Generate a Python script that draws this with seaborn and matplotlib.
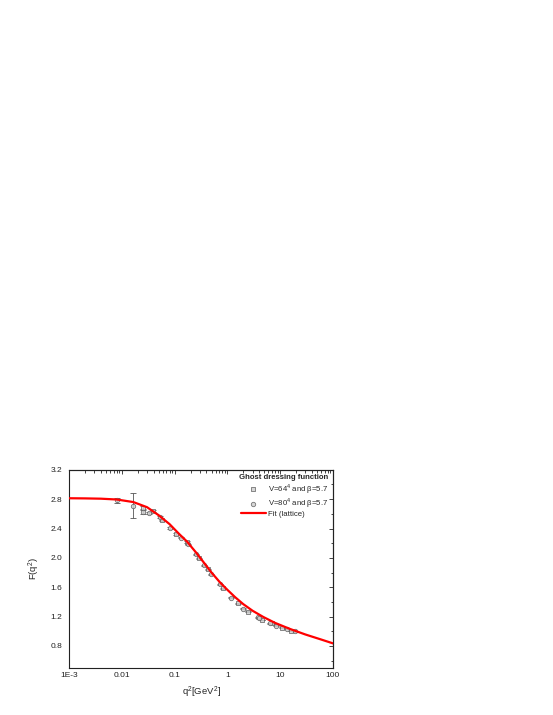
import numpy as np
import pandas as pd
import matplotlib
matplotlib.use("Agg")
import matplotlib.pyplot as plt
import seaborn as sns
from matplotlib.ticker import LogLocator, FixedLocator, MultipleLocator, NullFormatter

# fit curve
fit_q = [0.001, 0.002, 0.004, 0.008, 0.0165, 0.03, 0.05, 0.08, 0.12, 0.17, 0.25, 0.35,
         0.5, 0.72, 1.0, 1.4, 2.0, 3.0, 4.8, 8.0, 15.0, 30.0, 60.0, 100.0]
fit_F = [2.812, 2.810, 2.806, 2.795, 2.76, 2.69, 2.58, 2.46, 2.33, 2.225, 2.08, 1.945,
         1.80, 1.668, 1.565, 1.465, 1.37, 1.28, 1.195, 1.115, 1.035, 0.957, 0.888, 0.836]

# V=64^4 lattice points
v64_q = [0.0249, 0.0385, 0.057, 0.106, 0.17, 0.294, 0.435, 0.815, 1.61, 2.49, 4.47, 6.9, 10.7, 16.4]
v64_F = [2.681, 2.635, 2.509, 2.328, 2.214, 1.993, 1.844, 1.586, 1.383, 1.265, 1.152, 1.108, 1.05, 1.01]
v64_err = [0.03, 0.015, 0.012, 0.01, 0.01, 0.008, 0.008, 0.006, 0.005, 0.005, 0.004, 0.004, 0.004, 0.004]

# V=80^4 lattice points
v80_q = [0.008, 0.0165, 0.0249, 0.0332, 0.0528, 0.0819, 0.131, 0.182, 0.254, 0.366, 0.489,
         0.724, 1.17, 2.0, 3.85, 4.0, 6.3, 8.5, 13.2, 19.0]
v80_F = [2.784, 2.712, 2.626, 2.613, 2.559, 2.41, 2.274, 2.183, 2.047, 1.898, 1.776,
         1.64, 1.46, 1.31, 1.189, 1.175, 1.108, 1.076, 1.03, 1.0]
v80_err = [0.038, 0.17, 0.035, 0.015, 0.012, 0.01, 0.01, 0.008, 0.008, 0.008, 0.006,
           0.006, 0.005, 0.005, 0.004, 0.004, 0.004, 0.004, 0.004, 0.004]

x_ticks = [1e-3, 0.01, 0.1, 1, 10, 100]
x_labels = ["1E-3", "0.01", "0.1", "1", "10", "100"]
y_ticks = [0.8, 1.2, 1.6, 2.0, 2.4, 2.8, 3.2]

sns.set_style("white")
plt.rcParams["font.family"] = ["Liberation Sans", "DejaVu Sans"]
plt.rcParams["mathtext.fontset"] = "custom"
plt.rcParams["mathtext.rm"] = "Liberation Sans"

fig = plt.figure(figsize=(5.53, 7.15), dpi=100)
ax = fig.add_axes([0.125, 0.0657, 0.477, 0.2773])

df64 = pd.DataFrame({"q": v64_q, "F": v64_F})
df80 = pd.DataFrame({"q": v80_q, "F": v80_F})
dfit = pd.DataFrame({"q": fit_q, "F": fit_F})

ax.errorbar(v80_q, v80_F, yerr=v80_err, fmt="none", ecolor="#555555", elinewidth=0.6, capsize=2, capthick=0.6, zorder=2)
ax.errorbar(v64_q, v64_F, yerr=v64_err, fmt="none", ecolor="#555555", elinewidth=0.6, capsize=2, capthick=0.6, zorder=2)

sns.scatterplot(data=df64, x="q", y="F", ax=ax, marker="s", s=8, facecolor="#d0d0d0",
                edgecolor="#606060", linewidth=0.6, alpha=0.85, zorder=3, label="V=64$^4$ and β=5.7")
sns.scatterplot(data=df80, x="q", y="F", ax=ax, marker="o", s=10, facecolor="#d0d0d0",
                edgecolor="#606060", linewidth=0.6, alpha=0.85, zorder=3, label="V=80$^4$ and β=5.7")
sns.lineplot(data=dfit, x="q", y="F", ax=ax, color="#ff0000", linewidth=1.6, zorder=4,
             label="Fit (lattice)", sort=True)

ax.set_xscale("log")
ax.set_xlim(1e-3, 100)
ax.set_ylim(0.5, 3.2)

ax.xaxis.set_major_locator(FixedLocator(x_ticks))
ax.set_xticklabels(x_labels)
ax.xaxis.set_minor_locator(LogLocator(base=10, subs=np.arange(2, 10) * 1.0, numticks=20))
ax.xaxis.set_minor_formatter(NullFormatter())
ax.yaxis.set_major_locator(FixedLocator(y_ticks))
ax.set_yticklabels([f"{v:.1f}" for v in y_ticks])
ax.yaxis.set_minor_locator(MultipleLocator(0.2))

ax.tick_params(axis="x", which="both", direction="in", labelsize=6, pad=3, colors="#222222")
ax.tick_params(axis="x", which="major", length=3, width=0.6)
ax.tick_params(axis="x", which="minor", length=1.8, width=0.5)
ax.tick_params(axis="y", which="both", direction="out", labelsize=6, pad=2, colors="#222222")
ax.tick_params(axis="y", which="major", length=3, width=0.6)
ax.tick_params(axis="y", which="minor", length=1.8, width=0.5)

# top / right ticks pointing inward
top = ax.secondary_xaxis("top")
top.xaxis.set_major_locator(FixedLocator(x_ticks))
top.xaxis.set_minor_locator(LogLocator(base=10, subs=np.arange(2, 10) * 1.0, numticks=20))
top.tick_params(which="both", direction="in", labeltop=False, width=0.6)
top.tick_params(which="major", length=3)
top.tick_params(which="minor", length=1.8)
right = ax.secondary_yaxis("right")
right.yaxis.set_major_locator(FixedLocator(y_ticks))
right.yaxis.set_minor_locator(MultipleLocator(0.2))
right.tick_params(which="both", direction="in", labelright=False, width=0.6)
right.tick_params(which="major", length=3)
right.tick_params(which="minor", length=1.8)
for sec in (top, right):
    for s in sec.spines.values():
        s.set_linewidth(0.8)

for s in ax.spines.values():
    s.set_linewidth(0.8)
    s.set_color("#222222")

ax.set_xlabel("q$^2$[GeV$^2$]", fontsize=6.8, labelpad=4)
ax.set_ylabel("F(q$^2$)", fontsize=6.8, labelpad=6)

leg = ax.legend(title="Ghost dressing function", loc="upper right", frameon=False,
                fontsize=5.6, title_fontsize=5.6, handlelength=3.2, handletextpad=0.3,
                labelspacing=0.05, borderaxespad=0.4, borderpad=0.2, markerscale=1.0)
leg.get_title().set_fontweight("bold")
leg._legend_box.align = "right"

fig.savefig("out.png", dpi=100)
